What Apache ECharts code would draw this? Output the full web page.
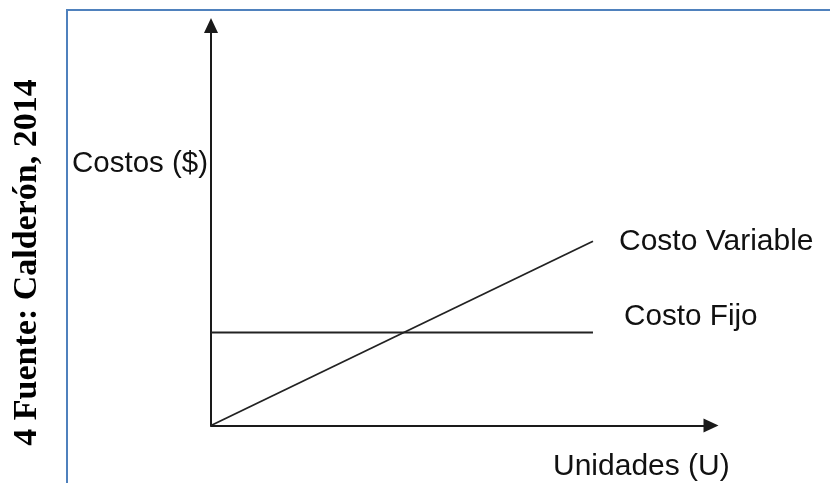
<!DOCTYPE html>
<html>
<head>
<meta charset="utf-8">
<script src="https://cdn.jsdelivr.net/npm/echarts@6/dist/echarts.min.js"></script>
<style>html,body{margin:0;padding:0;background:#fff;}#c{width:830px;height:483px;}</style>
</head>
<body>
<div id="c"></div>
<script>
// Data
var units = [0, 10];
var costoFijo = [50, 50];
var costoVariable = [0, 99];
var seriesNames = ['Costo Fijo', 'Costo Variable'];
var xAxisName = 'Unidades (U)';
var yAxisName = 'Costos ($)';
var sourceNote = '4 Fuente: Calderón, 2014';

var chart = echarts.init(document.getElementById('c'), null, {renderer: 'canvas'});
var textFont = 'Liberation Sans, Arial, sans-serif';
function pairs(xs, ys) { return xs.map(function (x, i) { return [x, ys[i]]; }); }

var axisLineStyle = {show: true, symbol: ['none', 'triangle'], symbolSize: [14, 15], lineStyle: {color: '#1a1a1a', width: 2}};

chart.setOption({
  animation: false,
  grid: {left: 211, right: 119, top: 25.5, bottom: 57.5, containLabel: false},
  xAxis: {type: 'value', min: 0, max: 13.09, axisLine: axisLineStyle, axisTick: {show: false}, axisLabel: {show: false}, splitLine: {show: false}},
  yAxis: {type: 'value', min: 0, max: 215, axisLine: axisLineStyle, axisTick: {show: false}, axisLabel: {show: false}, splitLine: {show: false}},
  series: [
    {name: seriesNames[0], type: 'line', data: pairs(units, costoFijo), showSymbol: false, symbol: 'none',
     lineStyle: {color: '#222', width: 1.8},
     endLabel: {show: true, formatter: seriesNames[0], distance: 0, offset: [31, -16], align: 'left', verticalAlign: 'middle', color: '#111', fontFamily: textFont, fontSize: 29.7}},
    {name: seriesNames[1], type: 'line', data: pairs(units, costoVariable), showSymbol: false, symbol: 'none',
     lineStyle: {color: '#222', width: 1.8},
     endLabel: {show: true, formatter: seriesNames[1], distance: 0, offset: [26, 0], align: 'left', verticalAlign: 'middle', color: '#111', fontFamily: textFont, fontSize: 30}}
  ],
  graphic: [
    {type: 'line', shape: {x1: 67, y1: 10, x2: 67, y2: 483}, style: {stroke: '#4f81bd', lineWidth: 2}, silent: true},
    {type: 'line', shape: {x1: 66, y1: 10, x2: 830, y2: 10}, style: {stroke: '#4f81bd', lineWidth: 2}, silent: true},
    {type: 'text', left: 72, top: 149, style: {text: yAxisName, font: '29.5px ' + textFont, fill: '#111'}},
    {type: 'text', left: 553, top: 452, style: {text: xAxisName, font: '30px ' + textFont, fill: '#111'}},
    {type: 'text', x: 27, y: 262.5, rotation: Math.PI / 2,
     style: {text: sourceNote, font: 'bold 34px "Liberation Serif", serif', fill: '#000', align: 'center', verticalAlign: 'middle'}}
  ]
});
</script>
</body>
</html>
